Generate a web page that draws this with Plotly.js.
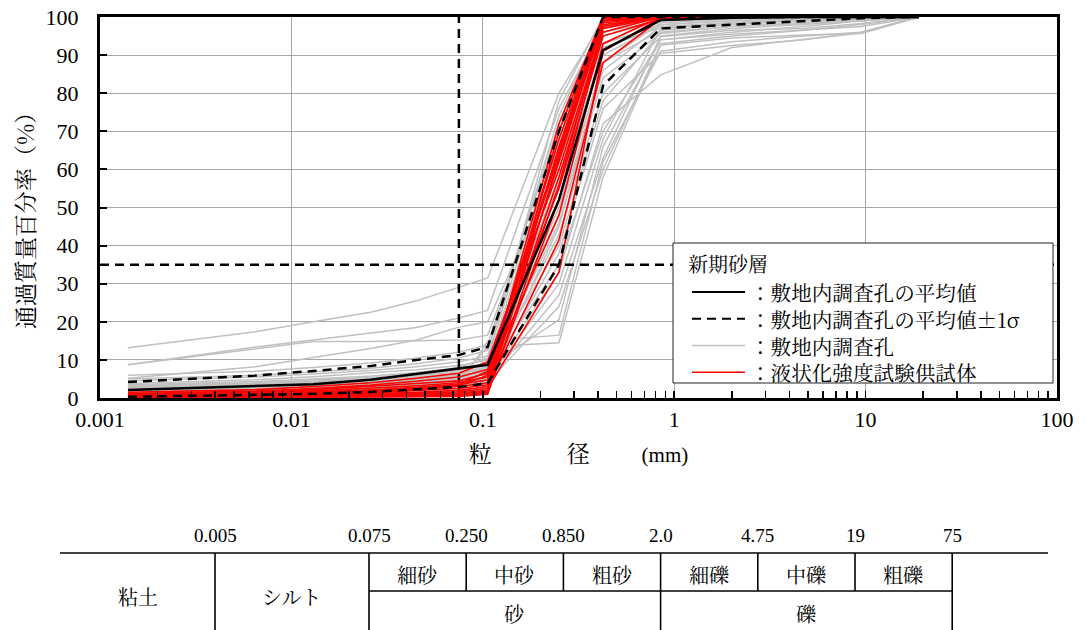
<!DOCTYPE html>
<html><head><meta charset="utf-8">
<script src="https://cdn.plot.ly/plotly-3.0.1.min.js"></script>
<style>html,body{margin:0;padding:0;background:#fff}#chart{width:1086px;height:630px}</style>
</head><body><div id="chart"></div>
<script>
// ---- data ----
const sizes = [0.0014, 0.0065, 0.013, 0.026, 0.045, 0.075, 0.106, 0.25, 0.425, 0.85, 2, 4.75, 9.5, 19];
const meanPass   = [2.1, 3.0, 3.6, 4.8, 6.3, 7.8, 8.7, 52, 91.3, 99.2, 99.8, 100, 100, 100];
const plusSigma  = [4.2, 5.9, 7.1, 8.4, 10.0, 11.3, 13.4, 70, 100, 100, 100, 100, 100, 100];
const minusSigma = [0.3, 0.8, 1.1, 1.6, 2.3, 2.9, 3.9, 35, 82, 97, 98, 99, 99.7, 100];
const boreholes = [
  [13.2, 17.4, 20.0, 22.5, 25.5, 29.0, 31.5, 80.0, 99.0, 100, 100, 100, 100, 100],
  [8.7, 13.4, 15.2, 17.0, 18.5, 21.0, 23.0, 76.0, 98.0, 99.5, 100, 100, 100, 100],
  [8.7, 13.0, 14.8, 14.8, 15.0, 15.2, 16.5, 66.0, 96.0, 99.0, 99.5, 100, 100, 100],
  [5.2, 8.2, 10.6, 13.0, 15.2, 18.6, 20.0, 62.0, 93.0, 98.0, 99.0, 99.5, 100, 100],
  [5.0, 6.0, 6.8, 7.8, 9.0, 10.5, 12.5, 74.0, 99.5, 100, 100, 100, 100, 100],
  [4.5, 5.5, 6.3, 7.2, 8.2, 9.5, 11.0, 70.0, 98.5, 100, 100, 100, 100, 100],
  [3.8, 4.8, 5.6, 6.5, 7.4, 8.5, 10.0, 78.0, 100, 100, 100, 100, 100, 100],
  [3.5, 4.3, 5.0, 5.8, 6.7, 7.8, 9.2, 68.0, 97.5, 99.8, 100, 100, 100, 100],
  [3.2, 4.0, 4.7, 5.4, 6.2, 7.2, 8.5, 64.0, 97.0, 99.5, 100, 100, 100, 100],
  [3.0, 3.8, 4.4, 5.1, 5.9, 6.8, 8.0, 58.0, 95.0, 99.0, 99.5, 100, 100, 100],
  [2.8, 3.5, 4.1, 4.8, 5.5, 6.4, 7.5, 55.0, 92.0, 97.3, 98.5, 99.4, 100, 100],
  [2.5, 3.2, 3.8, 4.5, 5.2, 6.0, 7.0, 50.0, 88.0, 96.5, 98.0, 99.0, 99.6, 100],
  [2.3, 3.0, 3.6, 4.2, 4.9, 5.7, 6.6, 46.0, 84.0, 95.7, 97.5, 98.3, 99.0, 100],
  [2.1, 2.8, 3.3, 3.9, 4.6, 5.3, 6.2, 43.0, 80.0, 94.8, 96.5, 97.0, 98.3, 100],
  [2.0, 2.6, 3.1, 3.7, 4.3, 5.0, 8.1, 20.5, 66.0, 94.0, 95.5, 96.6, 97.5, 100],
  [1.8, 2.4, 2.9, 3.5, 4.1, 4.8, 13.5, 14.5, 58.0, 92.6, 94.5, 95.3, 95.7, 100],
  [1.6, 2.2, 2.7, 3.2, 3.8, 4.5, 5.5, 38.0, 76.0, 90.4, 92.5, 94.0, 96.0, 100],
  [1.5, 2.0, 2.5, 3.0, 3.6, 4.2, 5.0, 33.0, 72.0, 84.8, 92.0, 94.0, 95.8, 100],
  [1.4, 1.9, 2.3, 2.8, 3.3, 3.9, 4.8, 30.0, 68.0, 97.0, 98.5, 99.0, 99.5, 100],
  [1.2, 1.7, 2.1, 2.6, 3.1, 3.6, 4.5, 27.0, 63.0, 95.0, 97.0, 98.0, 99.0, 100],
  [1.1, 1.5, 1.9, 2.3, 2.8, 3.3, 4.2, 24.0, 60.0, 93.0, 95.0, 96.5, 98.0, 100],
  [1.0, 1.4, 1.8, 2.2, 2.6, 3.0, 15.0, 16.5, 62.0, 91.0, 93.5, 95.0, 96.0, 100],
  [6.0, 7.0, 8.0, 9.2, 10.5, 12.0, 14.0, 72.0, 99.0, 100, 100, 100, 100, 100],
  [2.6, 3.4, 4.2, 5.2, 6.5, 8.0, 10.5, 56.0, 90.0, 98.0, 99.0, 99.5, 100, 100],
  [2.2, 3.0, 3.8, 4.8, 6.0, 7.5, 9.0, 48.0, 86.0, 97.5, 98.5, 99.2, 100, 100],
  [1.9, 2.5, 3.2, 4.0, 5.0, 6.2, 8.0, 40.0, 78.0, 96.0, 97.5, 98.5, 99.5, 100],
  [1.7, 2.3, 3.0, 3.8, 4.6, 5.8, 7.0, 35.0, 70.0, 94.0, 96.0, 97.5, 99.0, 100],
  [0.8, 1.2, 1.6, 2.0, 2.5, 3.2, 4.0, 45.0, 88.0, 98.5, 99.5, 100, 100, 100]
];
const specimens = [
  [1.5, 2.2, 3.0, 4.0, 5.2, 6.5, 9.5, 60, 97, 100, 100, 100, 100, 100],
  [1.2, 1.8, 2.5, 3.4, 4.4, 5.5, 7.5, 65, 99, 100, 100, 100, 100, 100],
  [1.0, 1.5, 2.2, 3.0, 3.8, 4.5, 6.5, 55, 95, 99.5, 100, 100, 100, 100],
  [0.8, 1.3, 1.8, 2.5, 3.2, 4.0, 5.5, 68, 99.5, 100, 100, 100, 100, 100],
  [0.6, 1.0, 1.5, 2.1, 2.8, 3.5, 4.8, 72, 100, 100, 100, 100, 100, 100],
  [0.5, 0.8, 1.2, 1.7, 2.3, 3.0, 4.0, 62, 98.5, 100, 100, 100, 100, 100],
  [0.4, 0.7, 1.0, 1.4, 1.9, 2.5, 3.5, 58, 96, 100, 100, 100, 100, 100],
  [0.3, 0.5, 0.8, 1.1, 1.5, 2.0, 3.0, 41.5, 88, 99.5, 100, 100, 100, 100],
  [0.2, 0.4, 0.6, 0.9, 1.2, 1.6, 2.5, 33, 91, 99.8, 100, 100, 100, 100],
  [0.2, 0.3, 0.5, 0.7, 1.0, 1.3, 2.0, 66, 100, 100, 100, 100, 100, 100],
  [0.1, 0.2, 0.4, 0.5, 0.8, 1.0, 1.8, 70, 100, 100, 100, 100, 100, 100],
  [0.1, 0.2, 0.3, 0.4, 0.6, 0.8, 1.5, 52, 97.5, 100, 100, 100, 100, 100],
  [0.0, 0.1, 0.2, 0.3, 0.4, 0.6, 1.2, 63, 99, 100, 100, 100, 100, 100],
  [0.0, 0.1, 0.1, 0.2, 0.3, 0.4, 1.0, 56, 98, 100, 100, 100, 100, 100],
  [0.3, 0.6, 1.0, 1.5, 2.2, 3.2, 6.0, 48, 93, 100, 100, 100, 100, 100],
  [0.5, 0.9, 1.4, 2.0, 2.7, 3.6, 7.0, 64, 99, 100, 100, 100, 100, 100]
];
const fineLimit = 0.075;
const criterion = 35;
const xRange = [0.001, 100];
const yRange = [0, 100];
const xTickVals = [0.001, 0.01, 0.1, 1, 10, 100];
const xTickText = ['0.001', '0.01', '0.1', '1', '10', '100'];
const yTickVals = [0, 10, 20, 30, 40, 50, 60, 70, 80, 90, 100];
const yTitle = '通過質量百分率（%）';
const legendTitle = '新期砂層';
const legendNames = ['：敷地内調査孔の平均値', '：敷地内調査孔の平均値±1σ', '：敷地内調査孔', '：液状化強度試験供試体'];
const classBounds = ['0.005', '0.075', '0.250', '0.850', '2.0', '4.75', '19', '75'];
const fineClasses = ['粘土', 'シルト'];
const subClasses = ['細砂', '中砂', '粗砂', '細礫', '中礫', '粗礫'];
const groupClasses = ['砂', '礫'];

// ---- styling / layout constants ----
const JP = '"Noto Serif CJK JP", "Noto Sans CJK JP", serif';
const NUM = '"Liberation Serif", "DejaVu Serif", serif';
const M = {l: 100, r: 29, t: 17, b: 232};
const PW = 1086 - M.l - M.r, PH = 630 - M.t - M.b;
const fx = x => (x - M.l) / PW;
const fy = y => (M.t + PH - y) / PH;
const DASH = '9px,6px';
const styles = [
  {color: '#000', width: 2.5},
  {color: '#000', width: 2.5, dash: DASH},
  {color: '#c0c0c0', width: 1.5},
  {color: '#ff0000', width: 1.6}
];

const traces = [];
boreholes.forEach(v => traces.push({x: sizes, y: v, mode: 'lines', line: styles[2], name: legendNames[2]}));
traces.push({x: [fineLimit, fineLimit], y: yRange, mode: 'lines', line: styles[1]});
traces.push({x: xRange, y: [criterion, criterion], mode: 'lines', line: styles[1]});
specimens.forEach(v => traces.push({x: sizes, y: v, mode: 'lines', line: styles[3], name: legendNames[3]}));
traces.push({x: sizes, y: plusSigma, mode: 'lines', line: styles[1], name: legendNames[1]});
traces.push({x: sizes, y: minusSigma, mode: 'lines', line: styles[1], name: legendNames[1]});
traces.push({x: sizes, y: meanPass, mode: 'lines', line: styles[0], name: legendNames[0]});
// invisible trace on the overlay axis so its inside tick marks are drawn
traces.push({x: xRange, y: yRange, mode: 'lines', yaxis: 'y2', line: {width: 0}, opacity: 0});

const shapes = [];
const ann = [];
const line = (x0, y0, x1, y1, st) => shapes.push({type: 'line', xref: 'paper', yref: 'paper',
  x0: fx(x0), y0: fy(y0), x1: fx(x1), y1: fy(y1), line: st || {color: '#000', width: 1.6}});
const text = (x, y, t, font, xanchor, extra) => ann.push(Object.assign({xref: 'paper', yref: 'paper',
  x: fx(x), y: fy(y), text: t, showarrow: false, xanchor: xanchor || 'center', yanchor: 'middle',
  font: font}, extra || {}));

// y-axis title
text(24, 215, yTitle, {family: JP, size: 23, color: '#000'}, 'center', {textangle: -90});

// ---- legend (drawn as a framed box) ----
const lgFont = 20.6;
const lg = {left: 673, right: 1053, top: 243, bottom: 383, titleY: 263, row0: 292, step: lgFont * 1.3,
  sx0: 692, sx1: 745, tx: 748};
shapes.push({type: 'rect', xref: 'paper', yref: 'paper', x0: fx(lg.left), x1: fx(lg.right),
  y0: fy(lg.top), y1: fy(lg.bottom), fillcolor: '#fff', line: {color: '#222', width: 1}, layer: 'above'});
text(lg.left + 13, lg.titleY, legendTitle, {family: JP, size: 20, color: '#000'}, 'left');
legendNames.forEach((n, i) => {
  const y = lg.row0 + i * lg.step;
  line(lg.sx0, y, lg.sx1, y, Object.assign({}, styles[i], {width: i < 2 ? 2 : 1.5}));
});
text(lg.tx, lg.row0 + 1.5 * lg.step, legendNames.join('<br>'), {family: JP, size: lgFont, color: '#000'},
  'left', {align: 'left'});

// ---- classification table below the chart ----
const tbl = {left: 60, right: 1048, top: 553, mid: 591, bottom: 640, labelY: 535,
  b0: 215, b1: 369, cell: 97.2};
const bx = i => i === 0 ? tbl.b0 : tbl.b1 + (i - 1) * tbl.cell;
line(tbl.left, tbl.top, tbl.right, tbl.top);
line(bx(1), tbl.mid, bx(7), tbl.mid);
const tFont = {family: JP, size: 20, color: '#000'};
classBounds.forEach((t, i) => {
  const full = (i === 0 || i === 1 || i === 4 || i === 7);
  line(bx(i), tbl.top, bx(i), full ? tbl.bottom : tbl.mid);
  text(bx(i), tbl.labelY, t, {family: NUM, size: 19, color: '#000'});
});
fineClasses.forEach((t, i) => text(i === 0 ? (tbl.left + bx(0)) / 2 : (bx(0) + bx(1)) / 2, 596, t, tFont));
subClasses.forEach((t, i) => text((bx(i + 1) + bx(i + 2)) / 2, 574, t, tFont));
groupClasses.forEach((t, i) => text(i === 0 ? (bx(1) + bx(4)) / 2 : (bx(4) + bx(7)) / 2, 613, t, tFont));

traces.forEach(t => { t.type = 'scatter'; t.showlegend = false; t.hoverinfo = 'skip'; });

const layout = {
  width: 1086, height: 630, margin: M,
  paper_bgcolor: '#fff', plot_bgcolor: '#fff',
  showlegend: false,
  xaxis: {type: 'log', range: [Math.log10(xRange[0]), Math.log10(xRange[1])],
    tickvals: xTickVals, ticktext: xTickText, ticks: 'inside', ticklen: 7, tickwidth: 1.5, tickcolor: '#000',
    showline: true, linewidth: 3, linecolor: '#000', mirror: true,
    showgrid: true, gridcolor: '#a6a6a6', gridwidth: 1, zeroline: false,
    minor: {ticks: 'inside', ticklen: 7, tickwidth: 1.5, tickcolor: '#000', dtick: 'D1', showgrid: false},
    tickfont: {family: NUM, size: 22, color: '#000'},
    title: {text: '粒　　　 径　　 <span style="font-family:Liberation Serif;font-size:21px">(mm)</span>',
      font: {family: JP, size: 23, color: '#000'}, standoff: 15},
    automargin: false},
  yaxis: {range: yRange, tickvals: yTickVals, ticks: 'outside', ticklen: 14, tickcolor: 'rgba(0,0,0,0)',
    showline: true, linewidth: 3, linecolor: '#000', mirror: true,
    showgrid: true, gridcolor: '#a6a6a6', gridwidth: 1, zeroline: false,
    tickfont: {family: NUM, size: 22, color: '#000'},
    automargin: false},
  yaxis2: {range: yRange, overlaying: 'y', anchor: 'x', side: 'left', tickvals: yTickVals,
    ticks: 'inside', ticklen: 7, tickwidth: 2, tickcolor: '#000', showticklabels: false,
    showgrid: false, showline: false, zeroline: false, automargin: false},
  shapes: shapes, annotations: ann
};
Plotly.newPlot('chart', traces, layout, {displayModeBar: false, staticPlot: true});
</script></body></html>
